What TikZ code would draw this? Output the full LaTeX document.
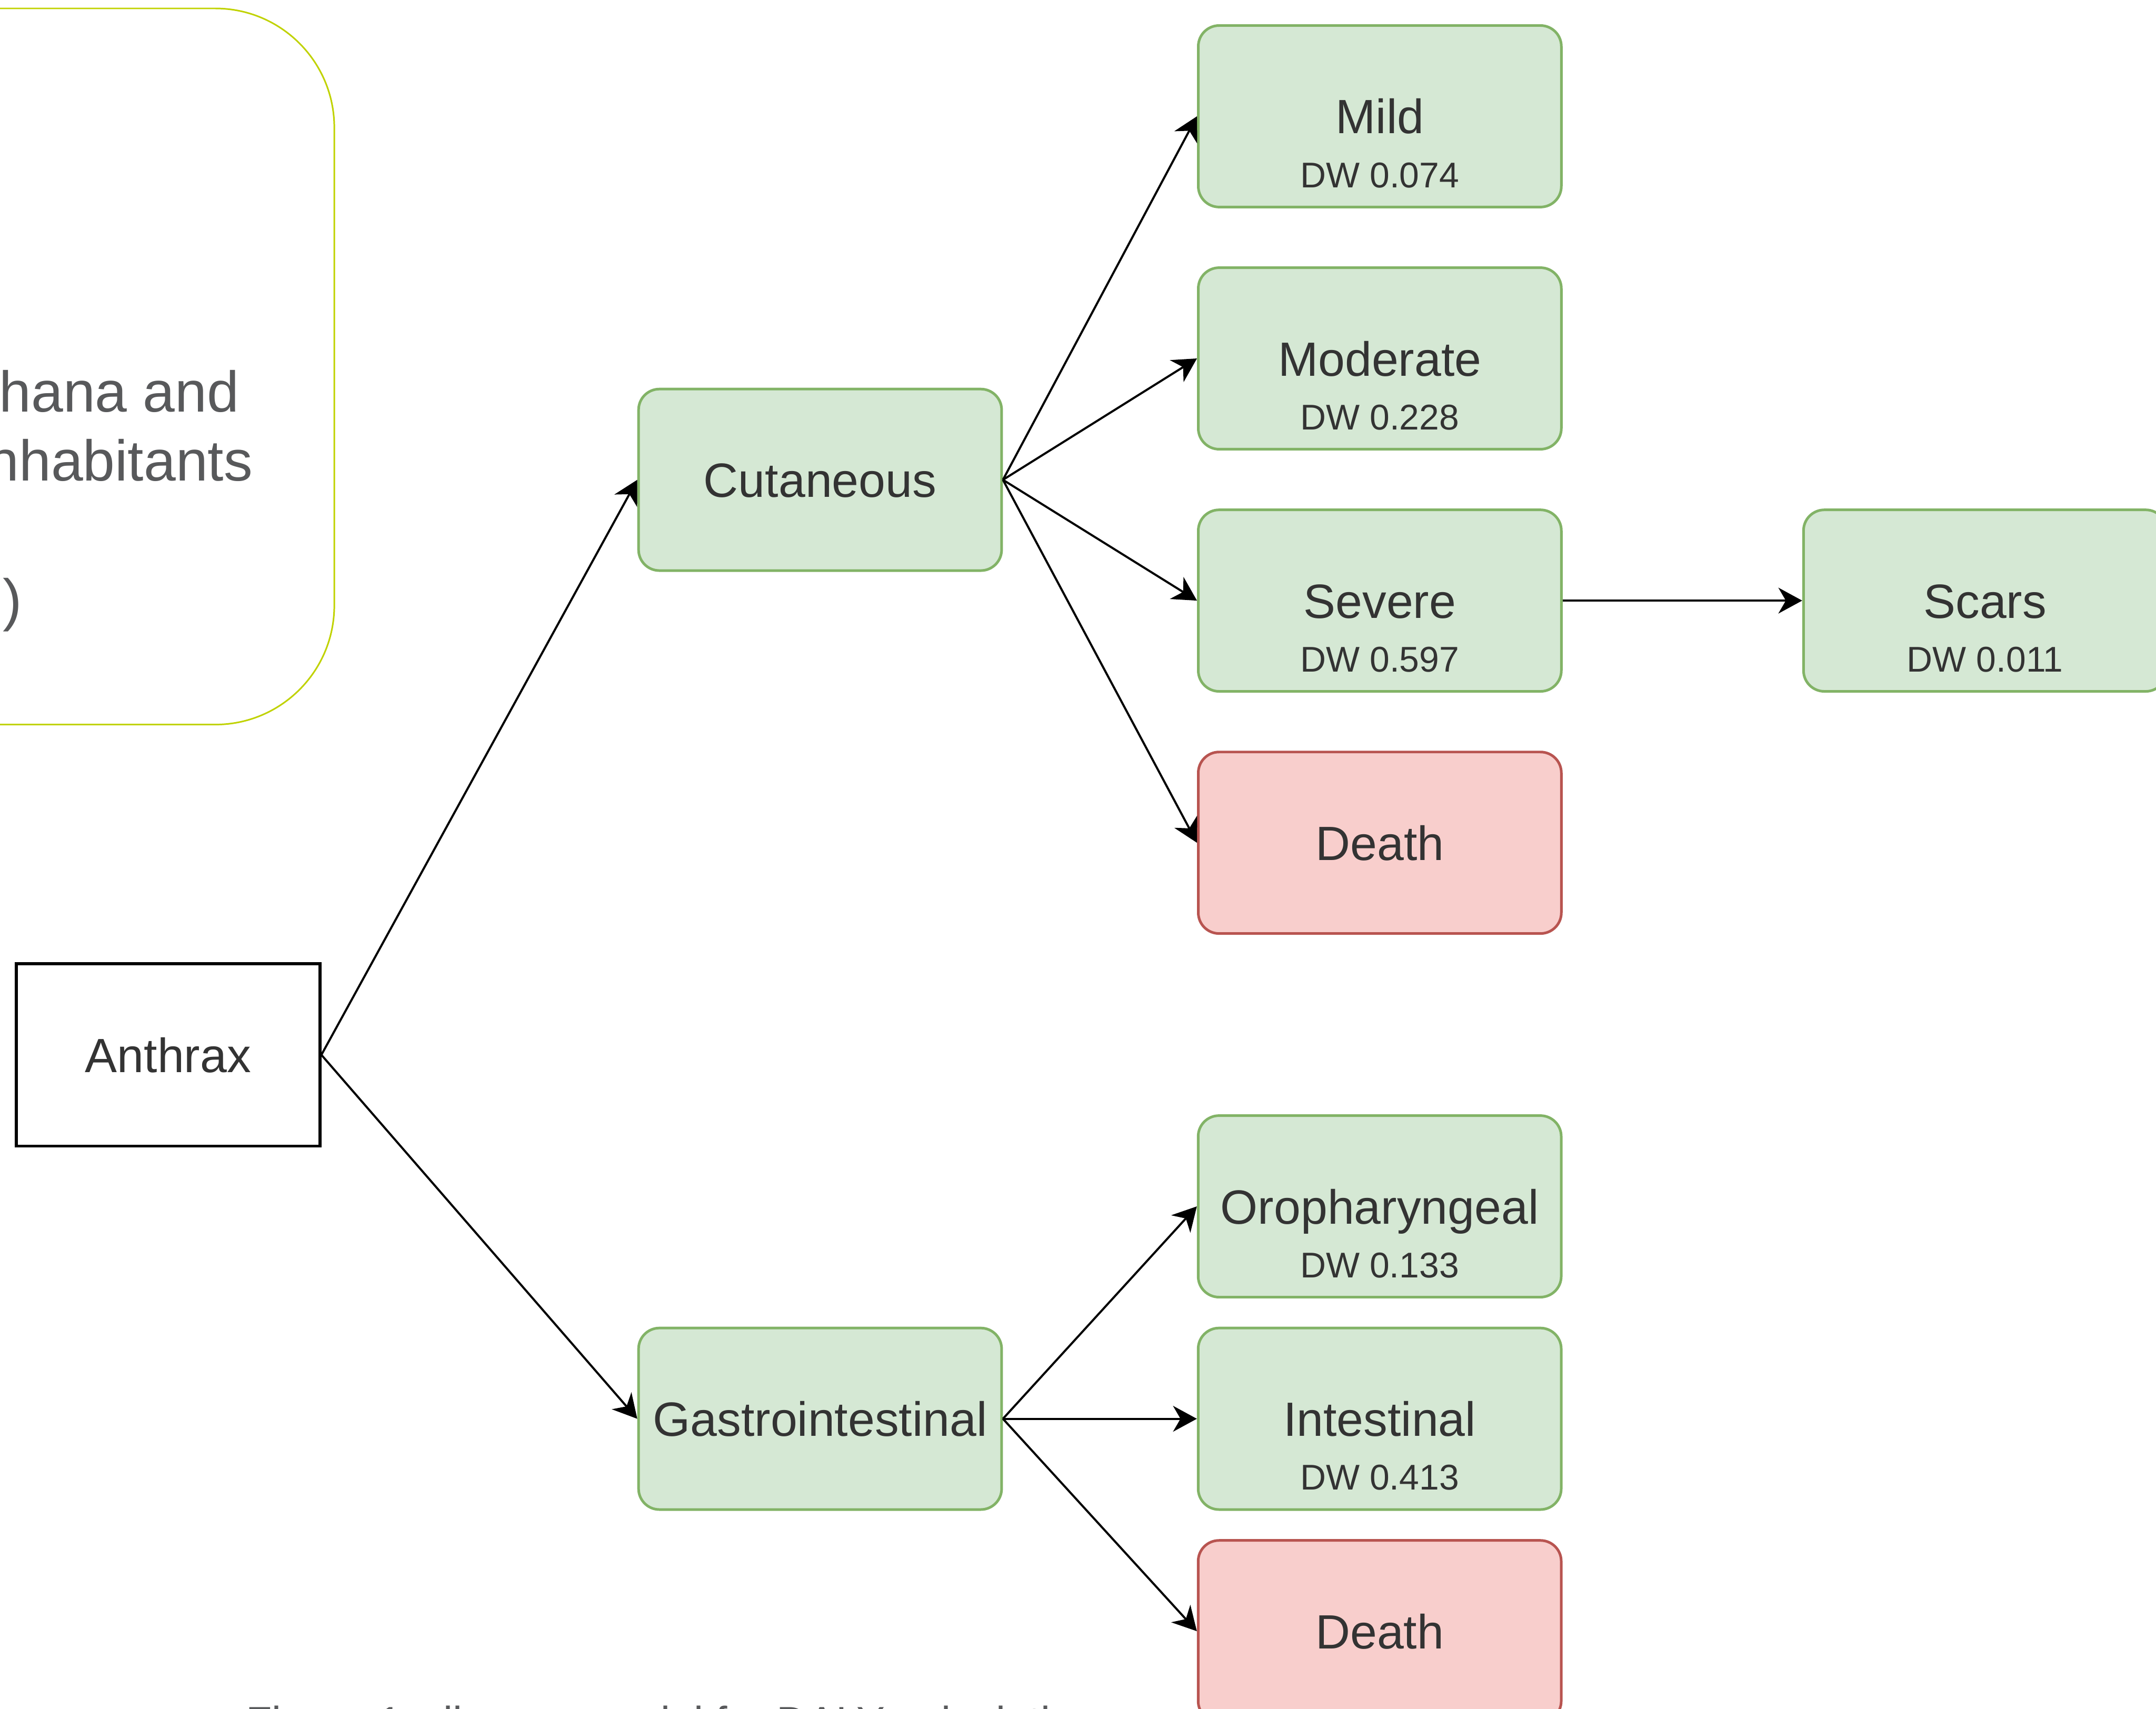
\documentclass[tikz,border=0pt]{standalone}
\usepackage{fontspec}
\setmainfont{Liberation Sans}
\usetikzlibrary{positioning, arrows.meta}

\definecolor{okfill}{HTML}{D5E8D4}
\definecolor{okline}{HTML}{82B366}
\definecolor{deadfill}{HTML}{F8CECC}
\definecolor{deadline}{HTML}{B85450}
\definecolor{limeline}{RGB}{192,210,0}
\definecolor{bodytext}{HTML}{58595B}
\definecolor{labeltext}{HTML}{333333}

\newcommand{\titlefont}{\fontsize{27.6}{33}\selectfont}
\newcommand{\dwfont}{\fontsize{20.5}{24}\selectfont}
\newcommand{\notefont}{\fontsize{33}{40}\selectfont}
\newcommand{\capfont}{\fontsize{24.4}{29}\selectfont}

\tikzset{
  rootbox/.style={rectangle, draw, line width=1.7pt, minimum width=6.12cm, minimum height=3.68cm, inner sep=0pt, text height=0.7cm, text depth=0pt, font=\titlefont, text=labeltext},
  stage/.style={rectangle, rounded corners=0.42cm, draw=okline, fill=okfill, line width=1.5pt, minimum width=7.32cm, minimum height=3.66cm, inner sep=0pt, text height=0.7cm, text depth=0pt, font=\titlefont, text=labeltext},
  death/.style={stage, draw=deadline, fill=deadfill},
  dw/.style={font=\dwfont, text=labeltext, text height=0.52cm, text depth=0pt, inner sep=0pt, yshift=-1.175cm},
  notebox/.style={rectangle, rounded corners=2.4cm, draw=limeline, line width=0.9pt, minimum width=10.74cm, minimum height=14.44cm},
  notetext/.style={anchor=base east, inner sep=0pt, font=\notefont, text=bodytext},
  captext/.style={anchor=base west, inner sep=0pt, font=\capfont, text=bodytext},
  link/.style={->, line width=1.2pt, black}
}

\begin{document}
\begin{tikzpicture}[
  >={Stealth[length=0.48cm, width=0.52cm, inset=0.15cm]}
]
  \useasboundingbox (0,0) rectangle (43.47,-34.45);
  \clip (0,0) rectangle (43.47,-34.45);

  % text box of the page, cut at the left
  \node[notebox] (note) at (1.37,-7.39) {};
  \node[notetext] (noteA) at (4.83,-8.30) {hana and};
  \node[notetext] (noteB) at (5.10,-9.70) {nhabitants};
  \node[notetext] (noteC) at (0.45,-12.50) {)};

  % disease and its forms
  \node[rootbox] (anthrax) at (3.39,-21.27) {Anthrax};
  \node[stage] (cut) at (16.535,-9.675) {Cutaneous};
  \node[stage, below=15.22cm of cut] (gi) {Gastrointestinal};

  % outcomes of the cutaneous form
  \node[stage, label={[dw]center:DW 0.074}] (mild) at (27.82,-2.345) {Mild};
  \node[stage, label={[dw]center:DW 0.228}, below=1.17cm of mild] (moderate) {Moderate};
  \node[stage, label={[dw]center:DW 0.597}, below=1.17cm of moderate] (severe) {Severe};
  \node[death, below=1.17cm of severe] (deathA) {Death};
  \node[stage, label={[dw]center:DW 0.011}, right=4.83cm of severe] (scars) {Scars};

  % outcomes of the gastrointestinal form
  \node[stage, label={[dw]center:DW 0.413}, right=3.91cm of gi] (intestinal) {Intestinal};
  \node[stage, label={[dw]center:DW 0.133}, above=0.57cm of intestinal] (oro) {Oropharyngeal};
  \node[death, below=0.57cm of intestinal] (deathB) {Death};

  % caption of the page, mostly cut at the bottom
  \node[captext] (caption) at (4.95,-35.02) {Figure 1: disease model for DALY calculation};

  % forms
  \draw[link] (anthrax.east) -- (cut.west);
  \draw[link] (anthrax.east) -- (gi.west);

  % cutaneous pathway
  \draw[link] (cut.east) -- (mild.west);
  \draw[link] (cut.east) -- (moderate.west);
  \draw[link] (cut.east) -- (severe.west);
  \draw[link] (cut.east) -- (deathA.west);
  \draw[link] (severe.east) -- (scars.west);

  % gastrointestinal pathway
  \draw[link] (gi.east) -- (oro.west);
  \draw[link] (gi.east) -- (intestinal.west);
  \draw[link] (gi.east) -- (deathB.west);
\end{tikzpicture}
\end{document}
